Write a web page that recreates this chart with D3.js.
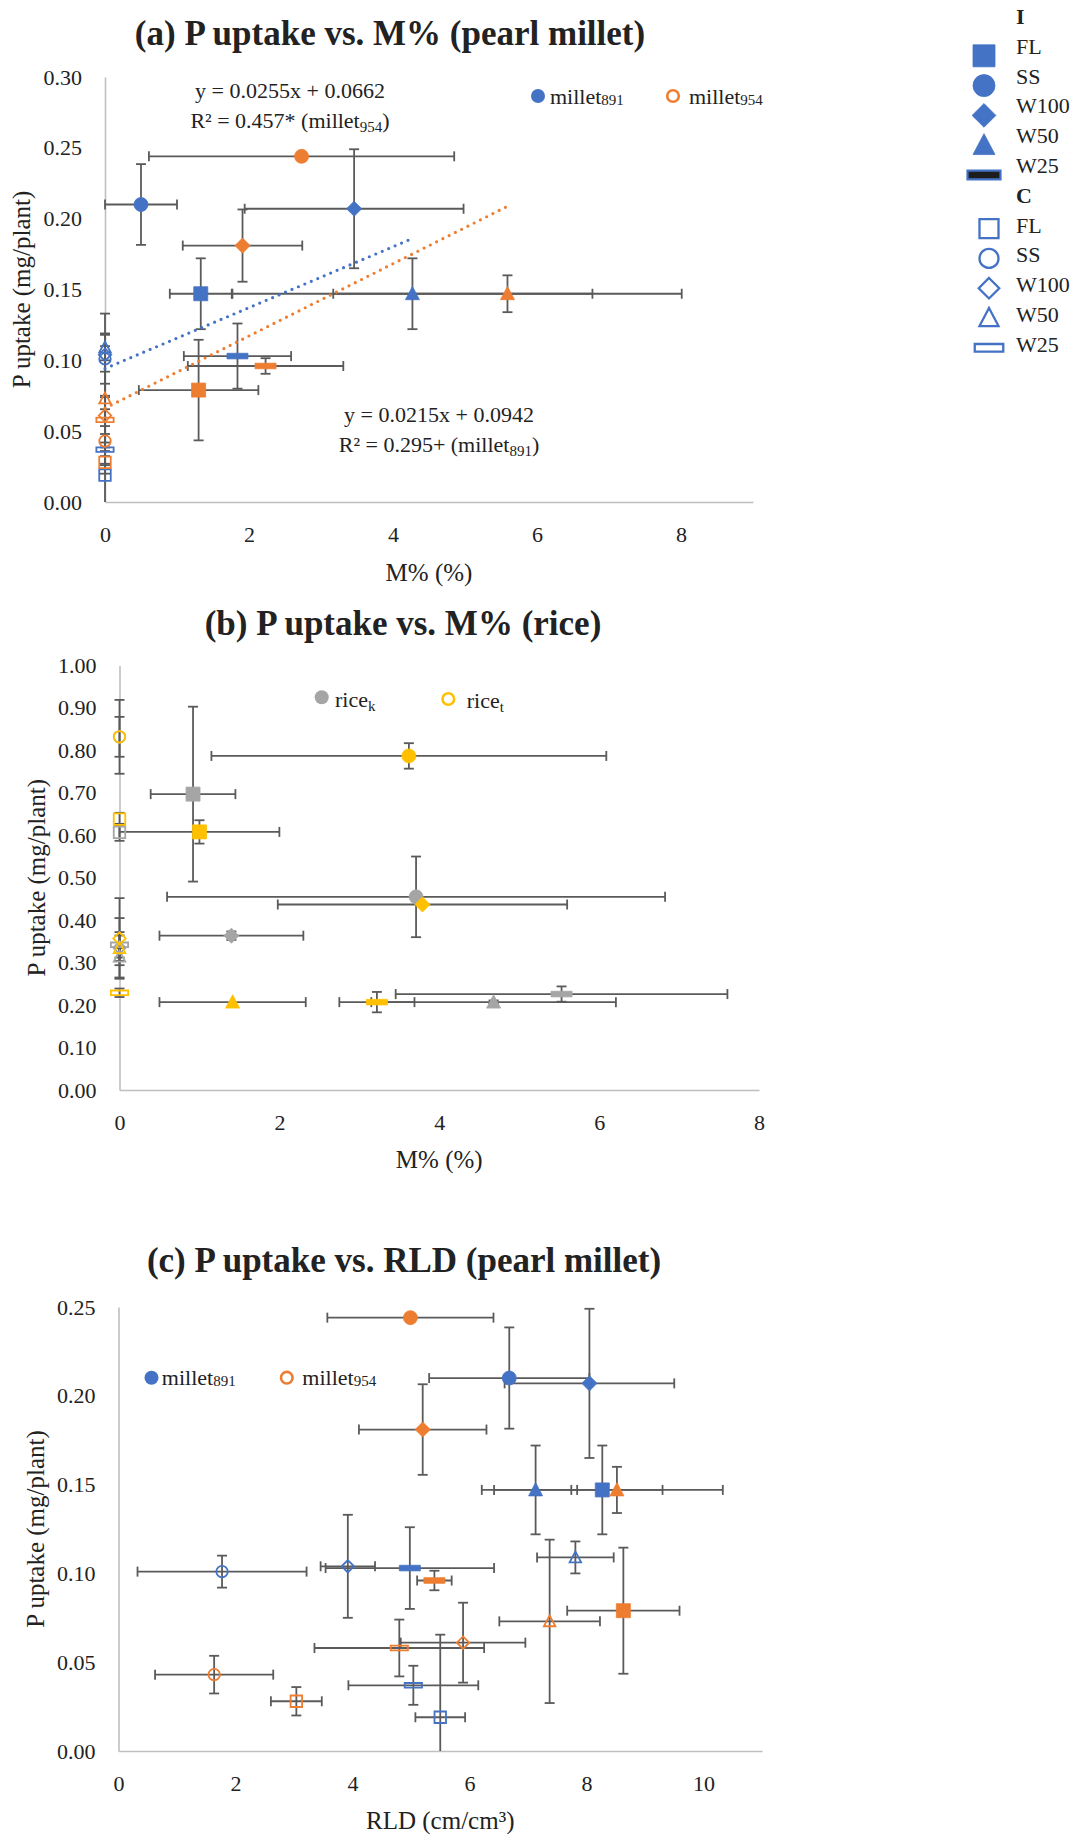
<!DOCTYPE html>
<html>
<head>
<meta charset="utf-8">
<script src="https://cdn.jsdelivr.net/npm/d3@7"></script>
<style>
  html, body { margin: 0; padding: 0; background: #fff; }
  svg { display: block; }
  svg text { font-family: "Liberation Serif", "Times New Roman", serif; }
</style>
</head>
<body>
<svg id="fig" width="1077" height="1834"></svg>
<script>
// ---------------------------------------------------------------------------
// Data
// ---------------------------------------------------------------------------
const treatments = ["FL", "SS", "W100", "W50", "W25"];
const shapes     = ["square", "circle", "diamond", "triangle", "dash"];

// Pearl millet P uptake (mg/plant) ± error; I = inoculated, C = control
const m891_I_P    = [0.147, 0.210, 0.207, 0.147, 0.103];
const m891_I_Perr = [0.025, 0.0285, 0.042, 0.025, 0.023];
const m891_C_P    = [0.019, 0.101, 0.104, 0.109, 0.037];
const m891_C_Perr = [0.0465, 0.009, 0.029, 0.009, 0.011];
const m954_I_P    = [0.079, 0.244, 0.181, 0.147, 0.096];
const m954_I_Perr = [0.0355, 0.002, 0.0255, 0.013, 0.0055];
const m954_C_P    = [0.028, 0.043, 0.061, 0.073, 0.058];
const m954_C_Perr = [0.008, 0.0106, 0.0225, 0.046, 0.016];

// Mycorrhizal colonisation M% (%) ± error
const m891_I_M    = [1.33, 0.50, 3.46, 4.27, 1.84];
const m891_I_Merr = [0.43, 0.50, 1.52, 2.50, 0.745];
const m954_I_M    = [1.30, 2.73, 1.91, 5.59, 2.23];
const m954_I_Merr = [0.83, 2.12, 0.83, 2.42, 1.08];
const control_M    = [0, 0, 0, 0, 0];
const control_Merr = [0, 0, 0, 0, 0];

// Root length density RLD (cm/cm3) ± error
const m891_I_RLD    = [8.27, 6.68, 8.05, 7.13, 4.98];
const m891_I_RLDerr = [2.06, 1.37, 1.45, 0.71, 1.44];
const m891_C_RLD    = [5.50, 1.77, 3.92, 7.81, 5.04];
const m891_C_RLDerr = [0.425, 1.445, 0.465, 0.655, 1.11];
const m954_I_RLD    = [8.63, 4.99, 5.20, 8.52, 5.40];
const m954_I_RLDerr = [0.96, 1.42, 1.09, 0.78, 0.295];
const m954_C_RLD    = [3.04, 1.635, 5.89, 7.37, 4.80];
const m954_C_RLDerr = [0.435, 1.01, 1.065, 0.86, 1.45];

// Rice: M% and P uptake
const riceK_I_M    = [0.92, 3.71, 1.40, 4.68, 5.53];
const riceK_I_Merr = [0.53, 3.115, 0.90, 1.53, 2.075];
const riceK_I_P    = [0.697, 0.455, 0.3635, 0.207, 0.226];
const riceK_I_Perr = [0.206, 0.095, 0.010, 0.004, 0.018];
const riceK_C_P    = [0.607, 0.832, 0.335, 0.314, 0.342];
const riceK_C_Perr = [0.020, 0.047, 0.070, 0.020, 0.030];
const riceT_I_M    = [1.00, 3.62, 3.79, 1.415, 3.22];
const riceT_I_Merr = [1.00, 2.47, 1.81, 0.915, 0.47];
const riceT_I_P    = [0.608, 0.787, 0.437, 0.207, 0.207];
const riceT_I_Perr = [0.0275, 0.030, 0, 0, 0.024];
const riceT_C_P    = [0.638, 0.832, 0.357, 0.334, 0.229];
const riceT_C_Perr = [0.015, 0.087, 0.095, 0.030, 0.010];

// Linear fits of P uptake on M% (pearl millet)
const trendSlope     = [0.0215, 0.0255];   // millet891, millet954
const trendIntercept = [0.0942, 0.0662];

// Axis ticks
const ticksA_x = [0, 2, 4, 6, 8];
const ticksA_y = [0, 0.05, 0.10, 0.15, 0.20, 0.25, 0.30];
const ticksB_x = [0, 2, 4, 6, 8];
const ticksB_y = [0, 0.1, 0.2, 0.3, 0.4, 0.5, 0.6, 0.7, 0.8, 0.9, 1.0];
const ticksC_x = [0, 2, 4, 6, 8, 10];
const ticksC_y = [0, 0.05, 0.10, 0.15, 0.20, 0.25];

// ---------------------------------------------------------------------------
// Styles
// ---------------------------------------------------------------------------
const FONT = '"Liberation Serif", "Times New Roman", serif';
const BLUE = "#4472C4", ORANGE = "#ED7D31", GRAY = "#A5A5A5", GOLD = "#FFC000";
const ERR = "#5a5a5a", AXIS = "#BFBFBF", TEXT = "#222222";

const svg = d3.select("#fig").attr("font-family", FONT);

function markerPath(shape, s) {
  const h = s / 2;
  switch (shape) {
    case "square":   return `M${-h},${-h}H${h}V${h}H${-h}Z`;
    case "circle":   return `M${h},0A${h},${h} 0 1,1 ${-h},0A${h},${h} 0 1,1 ${h},0Z`;
    case "diamond": { const d = h * 1.08; return `M0,${-d}L${d},0L0,${d}L${-d},0Z`; }
    case "triangle": return `M0,${-h * 1.05}L${h},${h * 0.85}L${-h},${h * 0.85}Z`;
    case "dash":    { const w = s * 0.75, t = s * 0.2; return `M${-w},${-t}H${w}V${t}H${-w}Z`; }
  }
}

function points(xs, xe, ys, ye, filled, color) {
  return treatments.map((t, i) => ({
    t, shape: shapes[i], x: xs[i], xe: xe[i], y: ys[i], ye: ye[i], filled, color
  }));
}

function drawMarker(g, p, cx, cy, big) {
  const s = p.filled ? (big ? 22 : 14) : (big ? 19 : 11.5);
  const path = g.append("path")
    .attr("d", markerPath(p.shape, s))
    .attr("transform", `translate(${cx},${cy})`);
  if (p.filled) {
    path.attr("fill", p.darkCore ? "#1d1d1d" : p.color)
        .attr("stroke", p.color).attr("stroke-width", p.darkCore ? 2.2 : 0.8);
  } else {
    path.attr("fill", "none").attr("stroke", p.color).attr("stroke-width", big ? 2.3 : 1.8);
  }
}

function panel(o) {
  const g = svg.append("g");
  const x = d3.scaleLinear().domain(o.xDomain).range(o.xRange);
  const y = d3.scaleLinear().domain(o.yDomain).range(o.yRange);

  // axes
  const ax = g.append("g").attr("transform", `translate(0,${o.yRange[0]})`)
    .call(d3.axisBottom(x).tickValues(o.xTicks).tickSize(0).tickPadding(24).tickFormat(d3.format("d")));
  const ay = g.append("g").attr("transform", `translate(${o.xRange[0]},0)`)
    .call(d3.axisLeft(y).tickValues(o.yTicks).tickSize(0).tickPadding(23).tickFormat(d3.format(".2f")));
  [ax, ay].forEach(a => {
    a.attr("font-family", FONT).attr("font-size", 22);
    a.select(".domain").attr("stroke", AXIS).attr("stroke-width", 1.6);
    a.selectAll("text").attr("fill", TEXT);
  });

  // error bars
  const eb = g.append("g").attr("stroke", ERR).attr("stroke-width", 1.8).attr("fill", "none");
  const cap = 5;
  o.points.forEach(p => {
    const px = x(p.x), py = y(p.y);
    if (p.ye > 0) {
      const lo = Math.max(p.y - p.ye, o.yDomain[0]), hi = Math.min(p.y + p.ye, o.yDomain[1]);
      eb.append("line").attr("x1", px).attr("x2", px).attr("y1", y(lo)).attr("y2", y(hi));
      if (p.y - p.ye >= o.yDomain[0])
        eb.append("line").attr("x1", px - cap).attr("x2", px + cap).attr("y1", y(lo)).attr("y2", y(lo));
      if (p.y + p.ye <= o.yDomain[1])
        eb.append("line").attr("x1", px - cap).attr("x2", px + cap).attr("y1", y(hi)).attr("y2", y(hi));
    }
    if (p.xe > 0) {
      const lo = Math.max(p.x - p.xe, o.xDomain[0]), hi = Math.min(p.x + p.xe, o.xDomain[1]);
      eb.append("line").attr("y1", py).attr("y2", py).attr("x1", x(lo)).attr("x2", x(hi));
      eb.append("line").attr("y1", py - cap).attr("y2", py + cap).attr("x1", x(lo)).attr("x2", x(lo));
      eb.append("line").attr("y1", py - cap).attr("y2", py + cap).attr("x1", x(hi)).attr("x2", x(hi));
    }
  });

  // trend lines
  (o.trends || []).forEach(tr => {
    g.append("line")
      .attr("x1", x(tr.x0)).attr("y1", y(tr.slope * tr.x0 + tr.intercept))
      .attr("x2", x(tr.x1)).attr("y2", y(tr.slope * tr.x1 + tr.intercept))
      .attr("stroke", tr.color).attr("stroke-width", 3.2)
      .attr("stroke-linecap", "round").attr("stroke-dasharray", "0 7");
  });

  // markers
  const mk = g.append("g");
  o.points.forEach(p => drawMarker(mk, p, x(p.x), y(p.y), false));

  // titles
  g.append("text").attr("x", o.title.x).attr("y", o.title.y)
    .attr("text-anchor", "middle").attr("font-weight", "bold").attr("font-size", 35)
    .attr("fill", TEXT).text(o.title.text);
  g.append("text").attr("x", (o.xRange[0] + o.xRange[1]) / 2).attr("y", o.xTitleY)
    .attr("text-anchor", "middle").attr("font-size", 25).attr("fill", TEXT).text(o.xTitle);
  g.append("text")
    .attr("transform", `translate(${o.yTitleX},${(o.yRange[0] + o.yRange[1]) / 2}) rotate(-90)`)
    .attr("text-anchor", "middle").attr("font-size", 25).attr("fill", TEXT).text("P uptake (mg/plant)");

  // series legend
  o.legend.forEach(l => {
    if (l.filled) g.append("circle").attr("cx", l.mx).attr("cy", l.my).attr("r", 7).attr("fill", l.color);
    else g.append("circle").attr("cx", l.mx).attr("cy", l.my).attr("r", 5.8)
           .attr("fill", "none").attr("stroke", l.color).attr("stroke-width", 2.6);
    const t = g.append("text").attr("x", l.tx).attr("y", l.ty).attr("font-size", 22).attr("fill", TEXT);
    t.append("tspan").text(l.name);
    t.append("tspan").attr("font-size", 15).attr("dy", l.subDy).text(l.sub);
  });

  return { g, x, y };
}

// ---------------------------------------------------------------------------
// (a) P uptake vs. M% (pearl millet)
// ---------------------------------------------------------------------------
const A = panel({
  xDomain: [0, 9], xRange: [105, 753],
  yDomain: [0, 0.30], yRange: [502, 77],
  xTicks: ticksA_x, yTicks: ticksA_y,
  title: { text: "(a) P uptake vs. M% (pearl millet)", x: 390, y: 45 },
  xTitle: "M% (%)", xTitleY: 581, yTitleX: 30,
  points: [
    ...points(control_M, control_Merr, m891_C_P, m891_C_Perr, false, BLUE),
    ...points(m891_I_M, m891_I_Merr, m891_I_P, m891_I_Perr, true, BLUE),
    ...points(control_M, control_Merr, m954_C_P, m954_C_Perr, false, ORANGE),
    ...points(m954_I_M, m954_I_Merr, m954_I_P, m954_I_Perr, true, ORANGE)
  ],
  trends: [
    { slope: trendSlope[0], intercept: trendIntercept[0], x0: 0, x1: d3.max(m891_I_M), color: BLUE },
    { slope: trendSlope[1], intercept: trendIntercept[1], x0: 0, x1: d3.max(m954_I_M), color: ORANGE }
  ],
  legend: [
    { filled: true,  color: BLUE,   mx: 538, my: 96, tx: 550, ty: 104, name: "millet", sub: "891", subDy: 1 },
    { filled: false, color: ORANGE, mx: 673, my: 96, tx: 689, ty: 104, name: "millet", sub: "954", subDy: 1 }
  ]
});

// regression equations
function equation(g, cx, y1, eq, r2, sub) {
  g.append("text").attr("x", cx).attr("y", y1).attr("text-anchor", "middle")
    .attr("font-size", 22).attr("fill", TEXT).text(eq);
  const t = g.append("text").attr("x", cx).attr("y", y1 + 30).attr("text-anchor", "middle")
    .attr("font-size", 22).attr("fill", TEXT);
  t.append("tspan").text(r2 + " (millet");
  t.append("tspan").attr("font-size", 15).attr("dy", 4).text(sub);
  t.append("tspan").attr("dy", -4).text(")");
}
const fmt4 = d3.format(".4f");
equation(A.g, 290, 98,
  `y = ${fmt4(trendSlope[1])}x + ${fmt4(trendIntercept[1])}`, "R² = 0.457*", "954");
equation(A.g, 439, 422,
  `y = ${fmt4(trendSlope[0])}x + ${fmt4(trendIntercept[0])}`, "R² = 0.295+", "891");

// ---------------------------------------------------------------------------
// (b) P uptake vs. M% (rice)
// ---------------------------------------------------------------------------
panel({
  xDomain: [0, 8], xRange: [119.5, 759],
  yDomain: [0, 1.0], yRange: [1090, 665.5],
  xTicks: ticksB_x, yTicks: ticksB_y,
  title: { text: "(b) P uptake vs. M% (rice)", x: 403, y: 635 },
  xTitle: "M% (%)", xTitleY: 1168, yTitleX: 45,
  points: [
    ...points(control_M, control_Merr, riceK_C_P, riceK_C_Perr, false, GRAY),
    ...points(riceK_I_M, riceK_I_Merr, riceK_I_P, riceK_I_Perr, true, GRAY),
    ...points(control_M, control_Merr, riceT_C_P, riceT_C_Perr, false, GOLD),
    ...points(riceT_I_M, riceT_I_Merr, riceT_I_P, riceT_I_Perr, true, GOLD)
  ],
  legend: [
    { filled: true,  color: GRAY, mx: 321.7, my: 697.3, tx: 335,   ty: 707, name: "rice", sub: "k", subDy: 4 },
    { filled: false, color: GOLD, mx: 448.3, my: 699,   tx: 466.7, ty: 708, name: "rice", sub: "t", subDy: 4 }
  ]
});

// ---------------------------------------------------------------------------
// (c) P uptake vs. RLD (pearl millet)
// ---------------------------------------------------------------------------
panel({
  xDomain: [0, 11], xRange: [118.5, 762],
  yDomain: [0, 0.25], yRange: [1751, 1307],
  xTicks: ticksC_x, yTicks: ticksC_y,
  title: { text: "(c) P uptake vs. RLD (pearl millet)", x: 404, y: 1272 },
  xTitle: "RLD (cm/cm³)", xTitleY: 1829, yTitleX: 44,
  points: [
    ...points(m891_C_RLD, m891_C_RLDerr, m891_C_P, m891_C_Perr, false, BLUE),
    ...points(m891_I_RLD, m891_I_RLDerr, m891_I_P, m891_I_Perr, true, BLUE),
    ...points(m954_C_RLD, m954_C_RLDerr, m954_C_P, m954_C_Perr, false, ORANGE),
    ...points(m954_I_RLD, m954_I_RLDerr, m954_I_P, m954_I_Perr, true, ORANGE)
  ],
  legend: [
    { filled: true,  color: BLUE,   mx: 151.5, my: 1377.7, tx: 161.8, ty: 1385, name: "millet", sub: "891", subDy: 1 },
    { filled: false, color: ORANGE, mx: 286.8, my: 1377.7, tx: 302.3, ty: 1385, name: "millet", sub: "954", subDy: 1 }
  ]
});

// ---------------------------------------------------------------------------
// Marker-shape key (I = inoculated, C = control)
// ---------------------------------------------------------------------------
const key = svg.append("g");
const groups = [{ label: "I", filled: true }, { label: "C", filled: false }];
let row = 0;
const rowY = i => 24 + i * 29.8;
groups.forEach(gr => {
  key.append("text").attr("x", 1016).attr("y", rowY(row)).attr("font-size", 22)
    .attr("font-weight", "bold").attr("fill", TEXT).text(gr.label);
  row++;
  treatments.forEach((t, i) => {
    const by = rowY(row);
    key.append("text").attr("x", 1016).attr("y", by).attr("font-size", 22).attr("fill", TEXT).text(t);
    drawMarker(key, { shape: shapes[i], filled: gr.filled, color: BLUE, darkCore: gr.filled && shapes[i] === "dash" },
      gr.filled ? 984 : 989, gr.filled ? by + 2 : by - 4, true);
    row++;
  });
});

// every label in the figure uses the serif face
svg.selectAll("text").style("font-family", FONT);
</script>
</body>
</html>
